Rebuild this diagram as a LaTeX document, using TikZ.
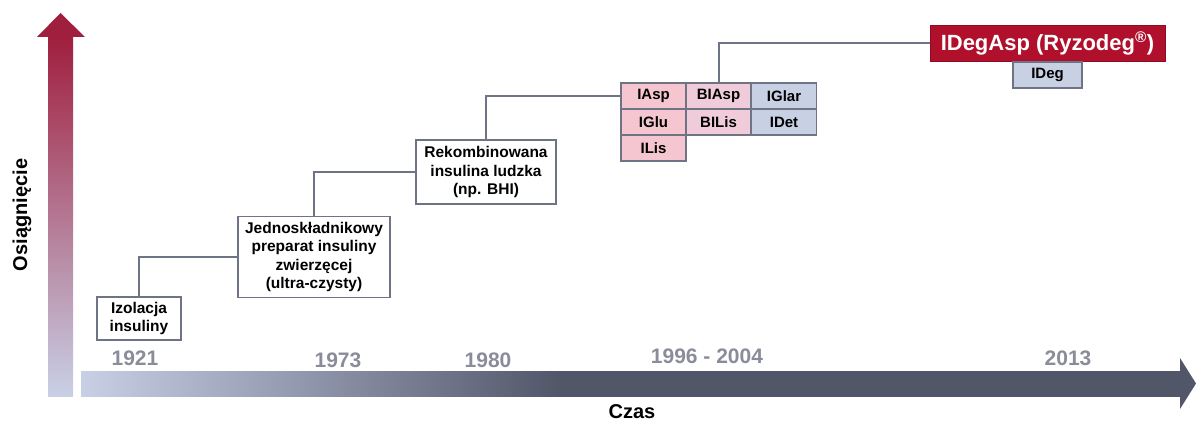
\documentclass[tikz,border=0pt]{standalone}
\usepackage{fontspec}
\setmainfont{Liberation Sans}
\usetikzlibrary{calc}
\definecolor{linegray}{HTML}{6E7385}
\definecolor{darkred}{HTML}{A01E3E}
\definecolor{boxred}{HTML}{B0102C}
\definecolor{lightblue}{HTML}{C8D0E6}
\definecolor{darkaxis}{HTML}{525669}
\definecolor{pinkA}{HTML}{F5C6D0}
\definecolor{pinkB}{HTML}{F0CCDA}
\definecolor{blueC}{HTML}{C8D0E4}
\definecolor{yeargray}{HTML}{8A8D99}
\pgfdeclarehorizontalshading{axisshade}{100bp}{color(0bp)=(lightblue); color(25bp)=(lightblue); color(46.8bp)=(darkaxis); color(100bp)=(darkaxis)}
\tikzset{
  box/.style={draw=linegray, line width=1.8pt, fill=white, align=center, font=\bfseries\fontsize{15.5}{18.5}\selectfont, inner sep=0pt},
  cell/.style={draw=linegray, line width=1.6pt, align=center, font=\bfseries\fontsize{15}{16}\selectfont, inner sep=0pt, minimum width=65pt, minimum height=26pt},
  conn/.style={draw=linegray, line width=2pt},
  year/.style={text=yeargray, font=\bfseries\fontsize{21}{24}\selectfont},
  axislabel/.style={font=\bfseries\fontsize{20}{24}\selectfont}
}
\begin{document}
\begin{tikzpicture}[x=1pt,y=-1pt]
\useasboundingbox (0,0) rectangle (1196,428);
% vertical arrow
\shade[top color=darkred, bottom color=lightblue] (48,36.5) rectangle (73,396);
\fill[darkred] (37,37) -- (60.5,13) -- (85,37) -- cycle;
\node[axislabel, rotate=90] (ylab) at (22,215) {Osiągnięcie};
% horizontal arrow
\shade[shading=axisshade] (81,371) rectangle (1180.5,396);
\fill[darkaxis] (1180,358) -- (1196,383.5) -- (1180,409) -- cycle;
\node[axislabel] (xlab) at (632,412) {Czas};
% years
\node[year] (y1921) at (135,358) {1921};
\node[year] (y1973) at (338,360) {1973};
\node[year] (y1980) at (488,360) {1980};
\node[year] (y1996) at (707,356) {1996 - 2004};
\node[year] (y2013) at (1068,358) {2013};
% boxes
\node[box, minimum width=84pt, minimum height=43pt] (izol) at (139,318.5) {Izolacja\\insuliny};
\node[box, minimum width=152pt, minimum height=81pt] (jedno) at (314,257) {Jednoskładnikowy\\preparat insuliny\\zwierzęcej\\(ultra-czysty)};
\node[box, minimum width=140pt, minimum height=64pt] (rekomb) at (486,172) {Rekombinowana\\insulina ludzka\\(np. BHI)};
% grid
\node[cell, fill=pinkA] (iasp) at (653.5,96) {IAsp};
\node[cell, fill=pinkA] (iglu) at (653.5,122) {IGlu};
\node[cell, fill=pinkA] (ilis) at (653.5,148) {ILis};
\node[cell, fill=pinkB] (biasp) at (718.5,96) {BIAsp};
\node[cell, fill=pinkB] (bilis) at (718.5,122) {BILis};
\node[cell, fill=blueC] (iglar) at (784,96) {IGlar};
\node[cell, fill=blueC] (idet) at (784,122) {IDet};
% IDegAsp
\node[draw=boxred!80!black, line width=0.8pt, fill=boxred, text=white, font=\bfseries\fontsize{22}{24}\selectfont, minimum width=235pt, minimum height=36pt, inner sep=0pt] (idegasp) at (1047.5,43.5) {IDegAsp (Ryzodeg\textsuperscript{®})};
\node[cell, fill=blueC, minimum width=69pt] (ideg) at (1047.5,75) {IDeg};
% connectors
\draw[conn] (izol.north) |- (jedno.west);
\draw[conn] (jedno.north) |- (rekomb.west);
\draw[conn] (rekomb.north) |- (iasp.west);
\draw[conn] (biasp.north) |- (idegasp.west);
\end{tikzpicture}
\end{document}
